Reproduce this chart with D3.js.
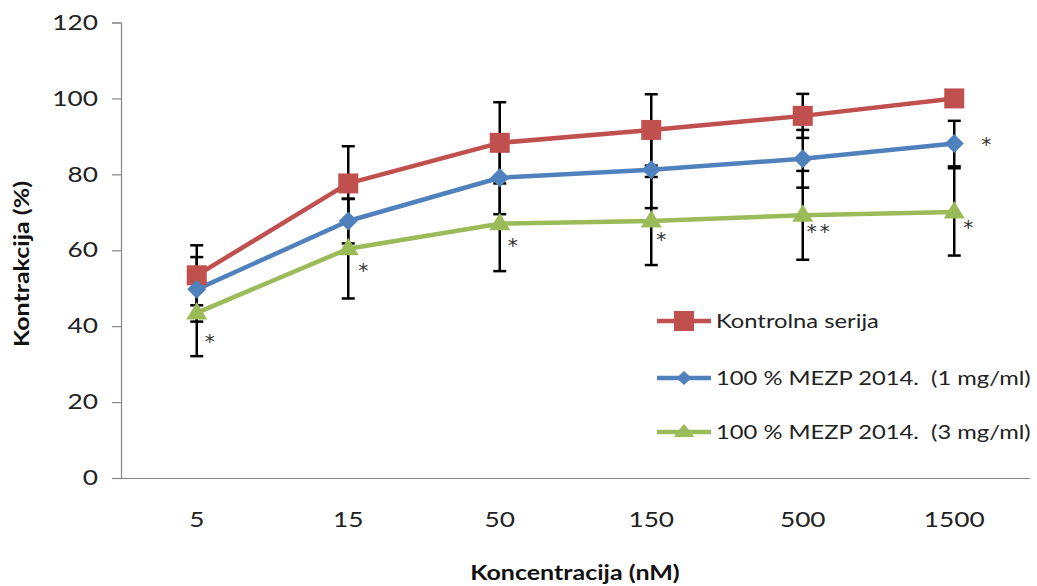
<!DOCTYPE html>
<html>
<head>
<meta charset="utf-8">
<script src="https://cdn.jsdelivr.net/npm/d3@7"></script>
<style>
  html, body { margin: 0; padding: 0; background: #fff; }
  svg { display: block; font-family: Lato, "Open Sans", sans-serif; }
</style>
</head>
<body>
<svg id="chart" width="1037" height="586"></svg>
<script>
// Concentrations (nM) on the category axis
const categories = ["5", "15", "50", "150", "500", "1500"];

// Mean contraction (%) per series
const kontrolna = [53.4, 77.6, 88.3, 91.7, 95.4, 100];
const mezp1 = [49.7, 67.7, 79.1, 81.2, 84.1, 88.1];
const mezp3 = [43.5, 60.4, 67.0, 67.7, 69.2, 70.1];

// Standard deviations (%) per series
const kontrolnaSD = [7.9, 9.8, 10.7, 9.4, 5.8, 0];
const mezp1SD = [8.5, 5.9, 9.6, 10.1, 7.6, 6.0];
const mezp3SD = [11.4, 13.1, 12.5, 11.6, 11.7, 11.5];

const seriesNames = ["Kontrolna serija", "100 % MEZP 2014.  (1 mg/ml)", "100 % MEZP 2014.  (3 mg/ml)"];
const yTicks = [0, 20, 40, 60, 80, 100, 120];

// Significance marks: series index, category index, label
const starNotes = [
  { s: 2, i: 0, text: "*" },
  { s: 2, i: 1, text: "*" },
  { s: 2, i: 2, text: "*" },
  { s: 2, i: 3, text: "*" },
  { s: 2, i: 4, text: "**" },
  { s: 2, i: 5, text: "*" },
  { s: 1, i: 5, text: "*" }
];

// ---- layout ----
const svg = d3.select("#chart");
const plotLeft = 121, plotRight = 1030, plotTop = 22.5, plotBottom = 478;
const colors = ["#C0504D", "#4F81BD", "#9BBB59"];
const SX = 1.25; // horizontal widening of the label face
const starOffsets = [[13, 24], [15, 17], [13, 17], [10, 14], [17, 12], [14, 11], [32, -4]];

// marker shapes (path strings around the origin)
const markerSquare = s => `M${-s},${-s}H${s}V${s}H${-s}Z`;
const markerDiamond = (w, h) => `M0,${-h}L${w},0L0,${h}L${-w},0Z`;
const markerTriangle = (w, up, down) => `M0,${-up}L${w},${down}L${-w},${down}Z`;
const markers = [
  () => markerSquare(10),
  () => markerDiamond(9.5, 9.5),
  () => markerTriangle(10.5, 11, 6.5)
];
const legendMarkers = [
  () => markerSquare(10),
  () => markerDiamond(7.5, 7),
  () => markerTriangle(10.5, 8, 5)
];

const x = d3.scaleBand().domain(categories).range([plotLeft, plotRight]).paddingInner(0).paddingOuter(0);
const y = d3.scaleLinear().domain([0, 120]).range([plotBottom, plotTop]);
const cx = c => x(c) + x.bandwidth() / 2;

const series = [
  { name: seriesNames[0], values: kontrolna, sd: kontrolnaSD },
  { name: seriesNames[1], values: mezp1, sd: mezp1SD },
  { name: seriesNames[2], values: mezp3, sd: mezp3SD }
];

// widen a text element horizontally around its own anchor point
function widen(sel) {
  sel.each(function () {
    const t = d3.select(this);
    const tx = +t.attr("x") || 0, ty = +t.attr("y") || 0;
    t.attr("x", 0).attr("y", 0).attr("transform", `translate(${tx},${ty}) scale(${SX},1)`);
  });
}

// ---- axes ----
const yAxis = d3.axisLeft(y).tickValues(yTicks).tickSize(9).tickPadding(14).tickFormat(d3.format("d"));
const gy = svg.append("g").attr("transform", `translate(${plotLeft},0)`).call(yAxis);
gy.select(".domain").attr("stroke", "#878787").attr("stroke-width", 1.2);
gy.selectAll(".tick line").attr("stroke", "#878787").attr("stroke-width", 1.2);
gy.selectAll(".tick text").attr("font-size", 21).attr("fill", "#222").attr("font-family", "Lato, sans-serif")
  .call(widen);

const xAxis = d3.axisBottom(x).tickSize(0).tickPadding(34);
const gx = svg.append("g").attr("transform", `translate(0,${plotBottom})`).call(xAxis);
gx.select(".domain").attr("stroke", "#878787").attr("stroke-width", 1.2)
  .attr("d", `M${plotLeft - 9},0.5H${plotRight}`);
gx.selectAll(".tick text").attr("font-size", 21).attr("fill", "#222").attr("font-family", "Lato, sans-serif")
  .call(widen);

// axis titles
svg.append("text")
  .attr("transform", `translate(29,264) rotate(-90) scale(${SX},1)`)
  .attr("text-anchor", "middle")
  .attr("font-size", 20).attr("font-weight", "bold").attr("fill", "#111")
  .text("Kontrakcija (%)");
svg.append("text")
  .attr("transform", `translate(575,580) scale(${SX},1)`)
  .attr("text-anchor", "middle")
  .attr("font-size", 20).attr("font-weight", "bold").attr("fill", "#111")
  .text("Koncentracija (nM)");

// ---- error bars ----
const gErr = svg.append("g");
series.forEach(s => {
  s.values.forEach((v, i) => {
    if (!s.sd[i]) return;
    const px = cx(categories[i]);
    const y0 = y(v - s.sd[i]), y1 = y(v + s.sd[i]);
    gErr.append("line").attr("x1", px).attr("x2", px).attr("y1", y0).attr("y2", y1)
      .attr("stroke", "#000").attr("stroke-width", 2.5);
    [y0, y1].forEach(yy => gErr.append("line")
      .attr("x1", px - 6.5).attr("x2", px + 6.5).attr("y1", yy).attr("y2", yy)
      .attr("stroke", "#000").attr("stroke-width", 2.5));
  });
});

// ---- lines and markers ----
const line = d3.line().x((d, i) => cx(categories[i])).y(d => y(d));
series.forEach((s, k) => {
  svg.append("path").datum(s.values)
    .attr("d", line).attr("fill", "none")
    .attr("stroke", colors[k]).attr("stroke-width", 4.5).attr("stroke-linejoin", "round");
});
series.forEach((s, k) => {
  svg.append("g").selectAll("path").data(s.values).join("path")
    .attr("transform", (d, i) => `translate(${cx(categories[i])},${y(d)})`)
    .attr("d", markers[k])
    .attr("fill", colors[k]);
});

// ---- significance marks ----
starNotes.forEach((n, j) => {
  const s = series[n.s];
  svg.append("text")
    .attr("transform", `translate(${cx(categories[n.i]) + starOffsets[j][0]},${y(s.values[n.i]) + starOffsets[j][1] + 11})`)
    .attr("text-anchor", "middle")
    .attr("font-size", 20).attr("fill", "#333")
    .attr("letter-spacing", n.text.length > 1 ? 3 : 0)
    .attr("font-family", "'DejaVu Sans', sans-serif")
    .text(n.text);
});

// ---- legend ----
const legendY = [321, 378, 432];
const lg = svg.append("g");
series.forEach((s, k) => {
  lg.append("line").attr("x1", 657).attr("x2", 711).attr("y1", legendY[k]).attr("y2", legendY[k])
    .attr("stroke", colors[k]).attr("stroke-width", 4.5);
  lg.append("path").attr("transform", `translate(684,${legendY[k]})`)
    .attr("d", legendMarkers[k])
    .attr("fill", colors[k]);
  lg.append("text")
    .attr("transform", `translate(716,${legendY[k] + 7}) scale(${SX},1)`)
    .attr("font-size", 19).attr("fill", "#222")
    .style("white-space", "pre")
    .text(s.name);
});
</script>
</body>
</html>
